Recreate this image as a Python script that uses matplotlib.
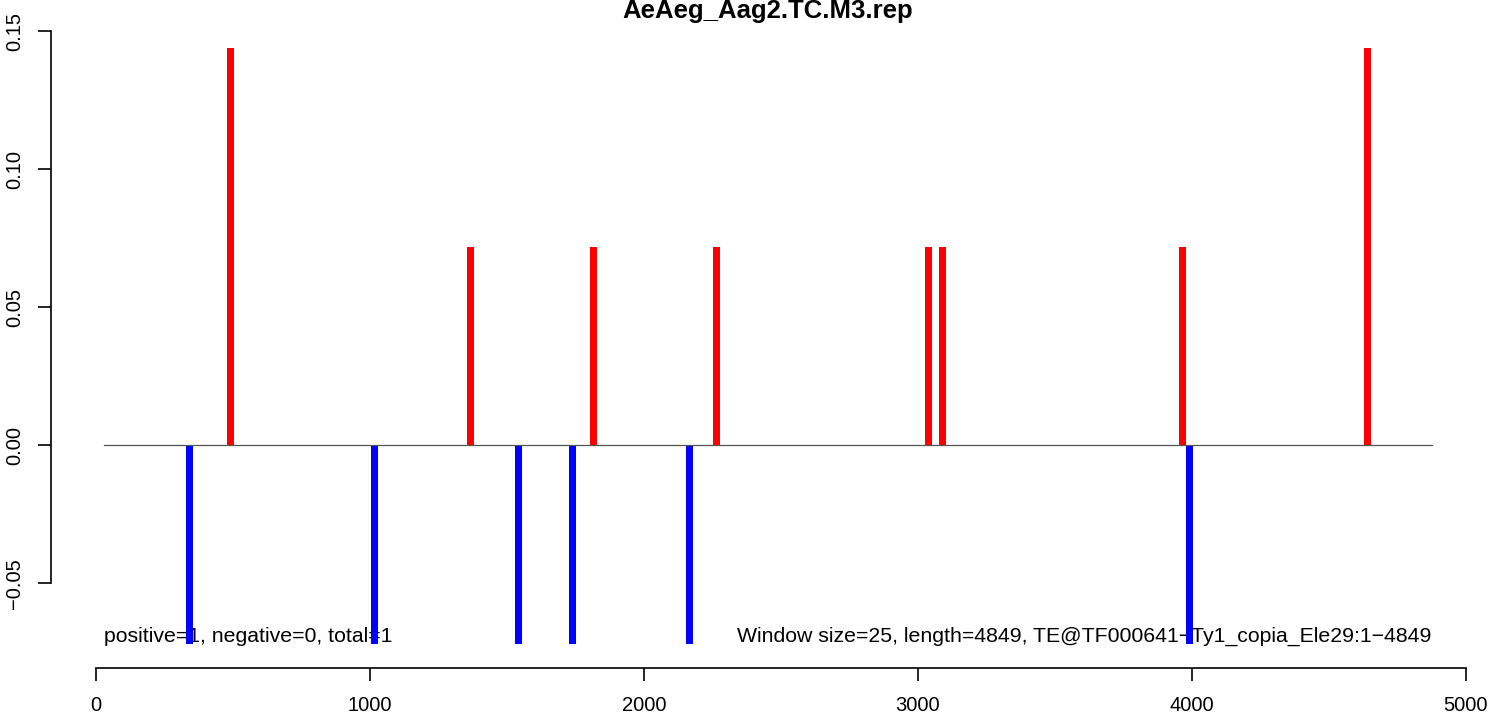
import matplotlib.pyplot as plt

plt.rcParams['font.family'] = ['Liberation Sans', 'DejaVu Sans']

title = "AeAeg_Aag2.TC.M3.rep"
pos_x = [490, 1366, 1815, 2264, 3038, 3089, 3965, 4640]
pos_y = [0.144, 0.072, 0.072, 0.072, 0.072, 0.072, 0.072, 0.144]
neg_x = [341, 1017, 1541, 1738, 2166, 3990]
neg_y = [-0.072, -0.072, -0.072, -0.072, -0.072, -0.072]
line_start, line_end = 29, 4876
left_note = "positive=1, negative=0, total=1"
right_note = "Window size=25, length=4849, TE@TF000641\u2212Ty1_copia_Ele29:1\u22124849"
window = 25

fig = plt.figure(figsize=(14.93, 7.19), dpi=100)
ax = fig.add_axes([51 / 1493, 51 / 719, (1485 - 51) / 1493, (695 - 51) / 719])

ax.bar(pos_x, pos_y, width=window, color='red', zorder=2)
ax.bar(neg_x, neg_y, width=window, color='blue', zorder=2)
ax.plot([line_start, line_end], [0, 0], color='#555555', lw=0.9, zorder=3)

ax.text(line_start, -0.0692, left_note, ha='left', va='center', fontsize=15.3, zorder=1)
ax.text(line_end, -0.0692, right_note, ha='right', va='center', fontsize=15.3, zorder=1)

ax.set_xlim(-165, 5070)
ax.set_ylim(-0.0806, 0.1526)
ax.set_xticks([0, 1000, 2000, 3000, 4000, 5000])
ax.set_yticks([-0.05, 0.0, 0.05, 0.10, 0.15])
ax.set_yticklabels(['\u22120.05', '0.00', '0.05', '0.10', '0.15'], rotation=90, va='center')
for s in ['top', 'right']:
    ax.spines[s].set_visible(False)
ax.spines['left'].set_bounds(-0.05, 0.15)
ax.spines['bottom'].set_bounds(0, 5000)
ax.tick_params(axis='both', length=9.5, width=1.2, labelsize=14.5)
ax.tick_params(axis='x', pad=11)
ax.tick_params(axis='y', pad=10)
for s in ['left', 'bottom']:
    ax.spines[s].set_linewidth(1.2)

fig.text((51 + 1485) / 2 / 1493, 1 - 11 / 719, title, fontsize=18.5, fontweight='bold',
         ha='center', va='center')

fig.savefig('out.png', dpi=100)
